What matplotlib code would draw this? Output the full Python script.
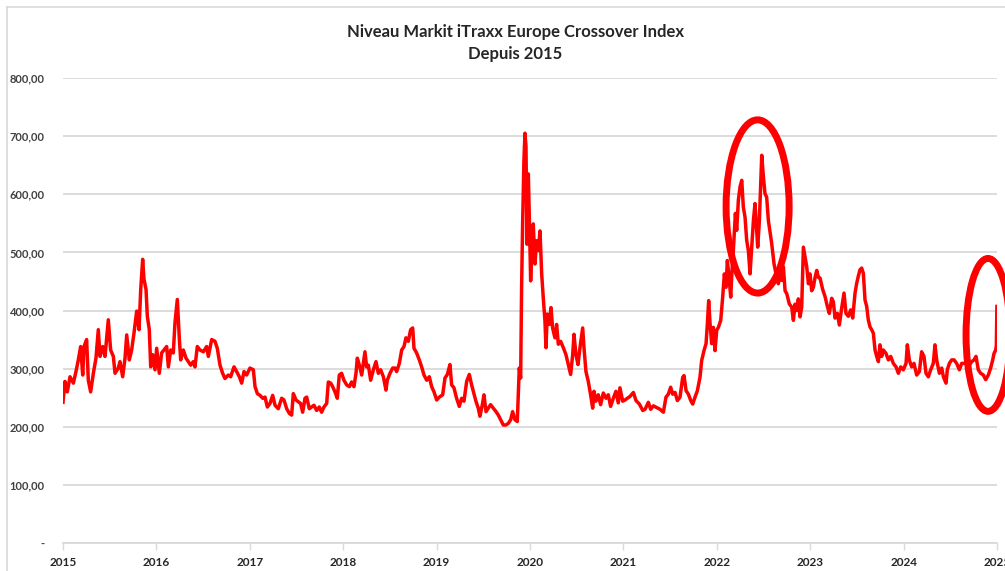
import matplotlib
matplotlib.use("Agg")
import matplotlib.pyplot as plt
from matplotlib.patches import Ellipse
from matplotlib.lines import Line2D
from matplotlib.ticker import FuncFormatter, FixedLocator

title = "Niveau Markit iTraxx Europe Crossover Index\nDepuis 2015"

# decimal year, index level
dates = [
    2015.000, 2015.021, 2015.046, 2015.075, 2015.111, 2015.139, 2015.164, 2015.189, 2015.211, 2015.225,
    2015.253, 2015.271, 2015.296, 2015.325, 2015.353, 2015.378, 2015.396, 2015.425, 2015.450, 2015.485,
    2015.510, 2015.539, 2015.557, 2015.592, 2015.610, 2015.639, 2015.664, 2015.682, 2015.710, 2015.735,
    2015.760, 2015.789, 2015.814, 2015.832, 2015.853, 2015.867, 2015.889, 2015.903, 2015.924, 2015.939,
    2015.960, 2015.985,
    2016.003, 2016.031, 2016.056, 2016.081, 2016.110, 2016.128, 2016.153, 2016.181, 2016.199, 2016.224,
    2016.246, 2016.260, 2016.288, 2016.317, 2016.342, 2016.367, 2016.395, 2016.413, 2016.438, 2016.467,
    2016.503, 2016.538, 2016.556, 2016.592, 2016.627, 2016.652, 2016.681, 2016.709, 2016.734, 2016.770,
    2016.795, 2016.831, 2016.859, 2016.888, 2016.913, 2016.938, 2016.966,
    2017.002, 2017.038, 2017.056, 2017.081, 2017.109, 2017.138, 2017.163, 2017.188, 2017.216, 2017.245,
    2017.270, 2017.305, 2017.341, 2017.366, 2017.395, 2017.423, 2017.448, 2017.466, 2017.495, 2017.520,
    2017.544, 2017.566, 2017.591, 2017.609, 2017.637, 2017.662, 2017.687, 2017.716, 2017.744, 2017.769,
    2017.794, 2017.823, 2017.841, 2017.866, 2017.887, 2017.912, 2017.937, 2017.958, 2017.983,
    2018.008, 2018.037, 2018.066, 2018.090, 2018.115, 2018.137, 2018.151, 2018.173, 2018.198, 2018.215,
    2018.233, 2018.251, 2018.269, 2018.294, 2018.323, 2018.351, 2018.376, 2018.401, 2018.430, 2018.458,
    2018.472, 2018.501, 2018.530, 2018.554, 2018.572, 2018.601, 2018.626, 2018.651, 2018.672, 2018.697,
    2018.722, 2018.744, 2018.758, 2018.786, 2018.815, 2018.840, 2018.865, 2018.894, 2018.922, 2018.947,
    2018.972,
    2019.001, 2019.029, 2019.065, 2019.090, 2019.115, 2019.143, 2019.161, 2019.186, 2019.214, 2019.243,
    2019.268, 2019.293, 2019.322, 2019.350, 2019.375, 2019.393, 2019.421, 2019.446, 2019.464, 2019.493,
    2019.507, 2019.529, 2019.554, 2019.578, 2019.607, 2019.636, 2019.661, 2019.686, 2019.714, 2019.743,
    2019.768, 2019.793, 2019.814, 2019.839, 2019.864, 2019.885, 2019.900, 2019.910, 2019.921, 2019.935,
    2019.946, 2019.957, 2019.968, 2019.982, 2019.992,
    2020.007, 2020.017, 2020.035, 2020.053, 2020.071, 2020.089, 2020.107, 2020.125, 2020.142, 2020.160,
    2020.171, 2020.185, 2020.207, 2020.225, 2020.242, 2020.267, 2020.285, 2020.303, 2020.328, 2020.357,
    2020.385, 2020.410, 2020.435, 2020.457, 2020.471, 2020.492, 2020.514, 2020.535, 2020.564, 2020.578,
    2020.599, 2020.624, 2020.649, 2020.671, 2020.685, 2020.706, 2020.731, 2020.756, 2020.785, 2020.814,
    2020.838, 2020.863, 2020.892, 2020.920, 2020.945, 2020.963, 2020.992,
    2021.017, 2021.042, 2021.070, 2021.107, 2021.135, 2021.171, 2021.207, 2021.232, 2021.267, 2021.292,
    2021.321, 2021.357, 2021.392, 2021.428, 2021.456, 2021.481, 2021.506, 2021.528, 2021.553, 2021.578,
    2021.606, 2021.635, 2021.649, 2021.671, 2021.696, 2021.721, 2021.742, 2021.767, 2021.792, 2021.820,
    2021.838, 2021.863, 2021.885, 2021.899, 2021.913, 2021.928, 2021.945, 2021.963, 2021.981, 2021.999,
    2022.017, 2022.042, 2022.063, 2022.081, 2022.099, 2022.113, 2022.131, 2022.149, 2022.163, 2022.177,
    2022.199, 2022.213, 2022.231, 2022.249, 2022.267, 2022.284, 2022.302, 2022.320, 2022.338, 2022.356,
    2022.374, 2022.392, 2022.409, 2022.427, 2022.438, 2022.456, 2022.470, 2022.481, 2022.499, 2022.516,
    2022.534, 2022.552, 2022.588, 2022.613, 2022.641, 2022.659, 2022.677, 2022.695, 2022.713, 2022.731,
    2022.749, 2022.777, 2022.802, 2022.820, 2022.838, 2022.856, 2022.873, 2022.891, 2022.909, 2022.927,
    2022.945, 2022.963, 2022.981, 2022.998,
    2023.016, 2023.034, 2023.052, 2023.070, 2023.087, 2023.105, 2023.134, 2023.159, 2023.184, 2023.205,
    2023.230, 2023.248, 2023.266, 2023.291, 2023.312, 2023.337, 2023.362, 2023.383, 2023.408, 2023.433,
    2023.455, 2023.480, 2023.498, 2023.515, 2023.533, 2023.551, 2023.569, 2023.587, 2023.605, 2023.622,
    2023.640, 2023.658, 2023.676, 2023.694, 2023.712, 2023.730, 2023.747, 2023.765, 2023.783, 2023.812,
    2023.837, 2023.862, 2023.890, 2023.919, 2023.944, 2023.969, 2023.997,
    2024.026, 2024.040, 2024.061, 2024.086, 2024.111, 2024.140, 2024.169, 2024.193, 2024.218, 2024.240,
    2024.265, 2024.290, 2024.318, 2024.336, 2024.354, 2024.383, 2024.408, 2024.426, 2024.454, 2024.468,
    2024.490, 2024.515, 2024.540, 2024.568, 2024.597, 2024.622, 2024.647, 2024.675, 2024.704, 2024.729,
    2024.754, 2024.775, 2024.800, 2024.825, 2024.854, 2024.879, 2024.907, 2024.932, 2024.954, 2024.968,
    2024.986, 2024.993, 2024.999,
]

values = [
    242, 278, 260, 286, 275, 295, 315, 338, 289, 338,
    350, 280, 260, 292, 318, 367, 321, 338, 321, 384,
    332, 321, 292, 301, 312, 286, 318, 358, 315, 332,
    361, 399, 367, 436, 488, 454, 436, 390, 367, 303,
    324, 298,
    335, 292, 327, 332, 338, 303, 332, 327, 379, 419,
    350, 315, 332, 318, 312, 306, 312, 303, 338, 332,
    329, 338, 321, 350, 347, 335, 306, 292, 283, 289,
    286, 303, 295, 286, 275, 295, 289,
    301, 298, 269, 257, 254, 249, 251, 234, 240, 254,
    237, 231, 249, 246, 231, 223, 220, 257, 246, 243,
    240, 225, 249, 251, 231, 234, 237, 228, 234, 225,
    234, 240, 277, 275, 269, 260, 249, 289, 292,
    280, 272, 269, 277, 269, 292, 318, 306, 289, 309,
    329, 303, 306, 280, 298, 312, 292, 298, 286, 263,
    280, 292, 301, 301, 295, 309, 332, 338, 353, 347,
    367, 370, 335, 327, 315, 303, 289, 280, 286, 269,
    260,
    246, 251, 255, 284, 290, 307, 272, 267, 249, 235,
    249, 244, 278, 290, 272, 261, 244, 232, 218, 241,
    255, 226, 232, 238, 232, 226, 220, 212, 203, 203,
    206, 212, 226, 212, 209, 301, 284, 439, 549, 659,
    705, 682, 514, 635, 566,
    451, 497, 549, 480, 520, 503, 537, 463, 422, 382,
    336, 394, 376, 405, 370, 353, 376, 342, 347, 336,
    324, 307, 290, 324, 359, 324, 307, 336, 370, 336,
    295, 278, 255, 232, 261, 244, 255, 238, 258, 249,
    255, 235, 249, 261, 241, 267, 244,
    246, 249, 252, 259, 245, 239, 228, 230, 242, 230,
    236, 233, 230, 225, 251, 256, 268, 256, 259, 245,
    251, 285, 288, 262, 256, 245, 239, 251, 262, 285,
    314, 331, 343, 377, 417, 377, 343, 371, 331, 366,
    371, 383, 423, 463, 440, 486, 457, 423, 469, 503,
    567, 538, 590, 613, 624, 578, 561, 521, 503, 463,
    509, 555, 584, 538, 509, 555, 618, 667, 630, 601,
    595, 555, 515, 480, 457, 446, 463, 452, 475, 434,
    429, 411, 406, 383, 411, 400, 420, 389, 406, 509,
    492, 475, 446, 463,
    434, 440, 457, 469, 457, 456, 436, 424, 407, 395,
    421, 415, 387, 395, 375, 404, 430, 395, 390, 401,
    387, 430, 447, 459, 470, 473, 464, 418, 407, 384,
    372, 367, 361, 332, 321, 312, 341, 321, 332, 326,
    315, 321, 309, 303, 292, 303, 298,
    309, 341, 315, 303, 309, 289, 295, 329, 321, 292,
    286, 298, 309, 341, 315, 292, 301, 286, 275, 298,
    309, 315, 315, 309, 298, 309, 309, 309, 306, 312,
    315, 321, 298, 292, 289, 281, 289, 301, 315, 326,
    332, 340, 407,
]

years = list(range(2015, 2026))
y_ticks = [0, 100, 200, 300, 400, 500, 600, 700, 800]

# highlighted zones: (center year, center level, width in years, height in level)
highlight_centers = [(2022.437, 579), (2024.904, 358)]
highlight_sizes = [(0.675, 298), (0.471, 263)]

RED = "#ff0000"
GRID = "#d9d9d9"
TXT = "#404040"
FONT = ["Lato", "DejaVu Sans"]

plt.rcParams["font.family"] = FONT

fig = plt.figure(figsize=(10.05, 5.71), dpi=100)
ax = fig.add_axes([63 / 1005, 1 - 543 / 571, (997 - 63) / 1005, (543 - 78) / 571])

ax.plot(dates, values, color=RED, lw=2.5, solid_joinstyle="round", zorder=3)

for (cx, cy), (w, h) in zip(highlight_centers, highlight_sizes):
    e = Ellipse((cx, cy), w, h, fill=False, edgecolor=RED, lw=5.0,
                transform=ax.transData, clip_on=False, zorder=4)
    ax.add_patch(e)

ax.set_xlim(2015, 2025)
ax.set_ylim(0, 800)
ax.yaxis.set_major_locator(FixedLocator(y_ticks))
ax.xaxis.set_major_locator(FixedLocator(years))
ax.xaxis.set_major_formatter(FuncFormatter(lambda v, p: f"{int(round(v))}"))


def fmt_y(v, p):
    if v == 0:
        return "-"
    return f"{v:.2f}".replace(".", ",")


ax.yaxis.set_major_formatter(FuncFormatter(fmt_y))
ax.grid(axis="y", color=GRID, lw=1.3)
ax.set_axisbelow(True)
for s in ["top", "right", "left"]:
    ax.spines[s].set_visible(False)
ax.spines["bottom"].set_color(GRID)
ax.spines["bottom"].set_linewidth(1.3)
ax.tick_params(axis="y", length=0, pad=13, labelsize=8, labelcolor=TXT)
ax.tick_params(axis="x", length=5, width=1, color=GRID, pad=5, labelsize=8.5, labelcolor="#262626")
for lab in ax.get_yticklabels() + ax.get_xticklabels():
    lab.set_fontweight("bold")

fig.text(515 / 1005, 1 - 43 / 571, title, ha="center", va="center", fontsize=12,
         fontweight="bold", color="#262626", linespacing=1.4)

# chart-area border
fig.add_artist(Line2D([7 / 1005, 1], [1 - 7 / 571, 1 - 7 / 571], color=GRID, lw=1.2,
                      transform=fig.transFigure))
fig.add_artist(Line2D([7 / 1005, 7 / 1005], [0, 1 - 7 / 571], color=GRID, lw=1.2,
                      transform=fig.transFigure))

fig.savefig("out.png", dpi=100, facecolor="white")
